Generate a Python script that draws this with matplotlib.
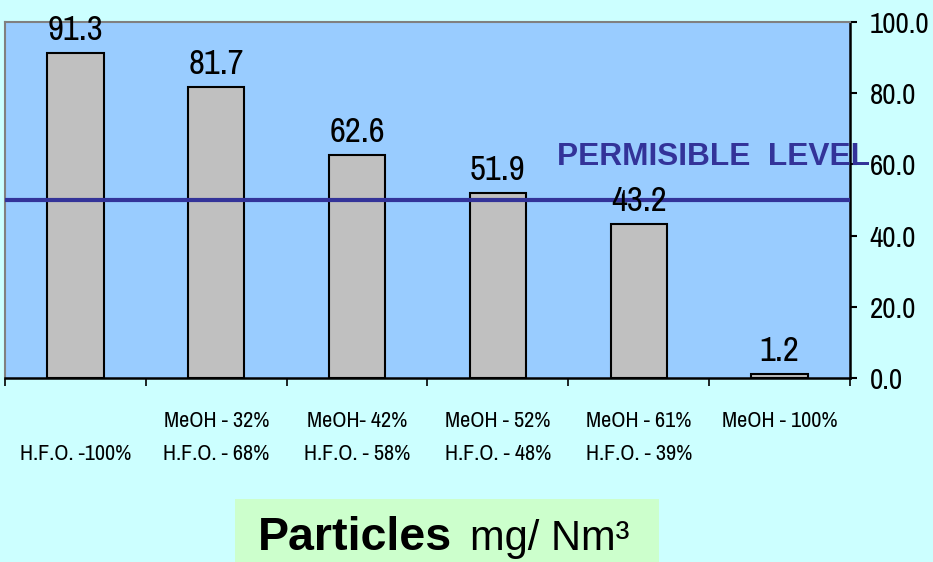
# coding=utf-8

import matplotlib
matplotlib.use('Agg')
import matplotlib.pyplot as plt
from matplotlib.patches import Rectangle

# 燃料配比与颗粒物排放
fuel_labels = ['\nH.F.O. -100%',
               'MeOH - 32%\nH.F.O. - 68%',
               'MeOH- 42%\nH.F.O. - 58%',
               'MeOH - 52%\nH.F.O. - 48%',
               'MeOH - 61%\nH.F.O. - 39%',
               'MeOH - 100%\n']
particles = [91.3, 81.7, 62.6, 51.9, 43.2, 1.2]
permissible_level = 50
y_ticks = [0, 20, 40, 60, 80, 100]

# 窄体字体用于数字和分类标签
narrow = ['Liberation Sans Narrow', 'Archivo Narrow', 'DejaVu Sans']
plt.rcParams['font.family'] = ['Liberation Sans', 'DejaVu Sans']


def plot_particles():
    """颗粒物排放柱状图"""
    fig = plt.figure(figsize=(9.33, 5.62), dpi=100)
    fig.patch.set_facecolor('#CCFFFF')

    ax = fig.add_axes([5 / 933, 1 - 378 / 562, 845 / 933, 356 / 562])
    ax.set_facecolor('#99CCFF')

    x = range(len(particles))
    bars = ax.bar(x, particles, width=0.4, color='#C0C0C0',
                  edgecolor='black', linewidth=1.5, zorder=2)

    # 数值标签
    for b, v in zip(bars, particles):
        ax.annotate('%.1f' % v, (b.get_x() + b.get_width() / 2, v),
                    xytext=(0, 5), textcoords='offset points',
                    ha='center', va='bottom', fontsize=25,
                    family=narrow, color='black', zorder=4)

    # 允许限值线
    ax.axhline(permissible_level, color='#333399', linewidth=3, zorder=3)
    ax.text(3.42, 62, 'PERMISIBLE  LEVEL', color='#333399',
            fontsize=22.8, fontweight='bold', ha='left', va='center',
            clip_on=False, zorder=5)

    ax.set_xlim(-0.5, len(particles) - 0.5)
    ax.set_ylim(0, 100)

    # y轴在右侧
    ax.yaxis.tick_right()
    ax.set_yticks(y_ticks)
    ax.set_yticklabels(['%.1f' % t for t in y_ticks], family=narrow,
                       fontsize=21)
    ax.tick_params(axis='y', length=5, width=1.5, pad=9, color='black')

    # x轴：标签居中，刻度在分组边界
    ax.set_xticks(list(x))
    ax.set_xticklabels(fuel_labels, family=narrow, fontsize=16,
                       linespacing=1.8, va='top')
    ax.tick_params(axis='x', which='major', length=0, pad=24)
    ax.set_xticks([i - 0.5 for i in range(len(particles) + 1)], minor=True)
    ax.tick_params(axis='x', which='minor', length=6, width=1.2,
                   color='black')

    for side in ['top', 'left']:
        ax.spines[side].set_color('#808080')
        ax.spines[side].set_linewidth(1.5)
    for side in ['right', 'bottom']:
        ax.spines[side].set_color('black')
        ax.spines[side].set_linewidth(1.8)

    # 底部标题框
    fig.patches.append(Rectangle((235 / 933, 0), 424 / 933, 63 / 562,
                                 transform=fig.transFigure,
                                 facecolor='#CCFFCC', edgecolor='none'))
    fig.text(258 / 933, 1 - 550 / 562, 'Particles', fontsize=33.5,
             fontweight='bold', ha='left', va='baseline')
    fig.text(470 / 933, 1 - 550 / 562, 'mg/ Nm³', fontsize=30,
             ha='left', va='baseline')

    fig.savefig('out.png', dpi=100, facecolor=fig.get_facecolor())


def main():
    plot_particles()


if __name__ == '__main__':
    main()
